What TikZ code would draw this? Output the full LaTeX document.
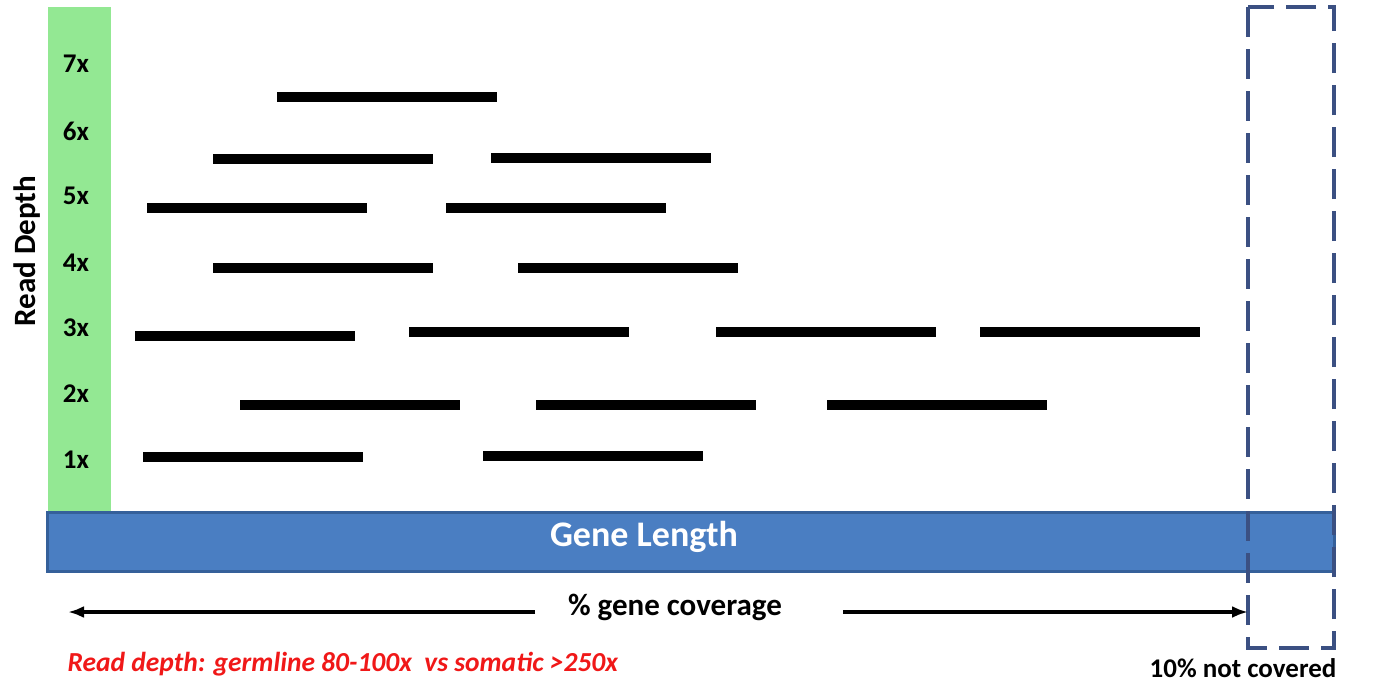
\documentclass[tikz,border=0pt]{standalone}
\usepackage{fontspec}
\setmainfont{Carlito}
\usepackage{xcolor}
\definecolor{depthGreen}{HTML}{93E893}
\definecolor{geneBlue}{HTML}{4A7EC2}
\definecolor{geneEdge}{HTML}{35609A}
\definecolor{gapBlue}{HTML}{3B5082}
\definecolor{noteRed}{HTML}{F01818}
\usepackage{tikz}
\usetikzlibrary{positioning,calc,arrows.meta}
\tikzset{%
  depthBar/.style={%
    rectangle,
    fill=depthGreen,
    draw=none
  },
  geneBar/.style={%
    rectangle,
    fill=geneBlue,
    draw=geneEdge,
    line width=3pt
  },
  readLine/.style={%
    line width=10pt,
    color=black
  },
  depthLabel/.style={%
    font=\bfseries\fontsize{27}{30}\selectfont,
    anchor=center
  },
  arrowLine/.style={%
    -{Latex[length=16pt,width=12pt]},
    line width=4.5pt,
    color=black
  },
  gapBox/.style={%
    draw=gapBlue,
    line width=4pt,
    dash pattern=on 30pt off 12pt
  }
}

\begin{document}
\begin{tikzpicture}[x=1pt,y=-1pt]
            \useasboundingbox (0,0) rectangle (1374,686);

            % depth axis and gene
            \fill[depthBar] (48,7) rectangle (111,518);
            \draw[geneBar] (47,512) rectangle (1334,571);
            \node[text=white, font=\bfseries\fontsize{36}{40}\selectfont] (gene) at (644,537) {Gene Length};

            \foreach \lbl/\y in {7/64,6/131,5/196,4/263,3/328,2/394,1/460}
              \node[depthLabel] (d\lbl) at (76,\y) {\lbl x};
            \node[rotate=90, font=\bfseries\fontsize{31}{34}\selectfont] (depth) at (27,251) {Read Depth};

            % reads
            \foreach \x/\y in {277/97, 213/159, 491/158, 147/208, 446/208,
                               213/268, 518/268, 135/336, 409/332, 716/332, 980/332,
                               240/405, 536/405, 827/405, 143/457, 483/456}
              \draw[readLine] (\x,\y) -- ++(220,0);

            % uncovered region
            \draw[gapBox] (1248,7) rectangle (1334,648);

            % coverage
            \node[font=\bfseries\fontsize{31}{34}\selectfont] (cov) at (675,607) {\% gene coverage};
            \coordinate (covL) at (68,612);
            \coordinate (covR) at (1248,612);
            \draw[arrowLine] (535,612) -- (covL);
            \draw[arrowLine] (843,612) -- (covR);

            \node[anchor=west, text=noteRed, font=\bfseries\itshape\fontsize{27.5}{30}\selectfont] (note) at (64,664) {Read depth: germline 80-100x\ \ vs somatic >250x};
            \node[font=\bfseries\fontsize{27}{30}\selectfont] (gap) at (1243,668) {10\% not covered};
        \end{tikzpicture}
\end{document}
